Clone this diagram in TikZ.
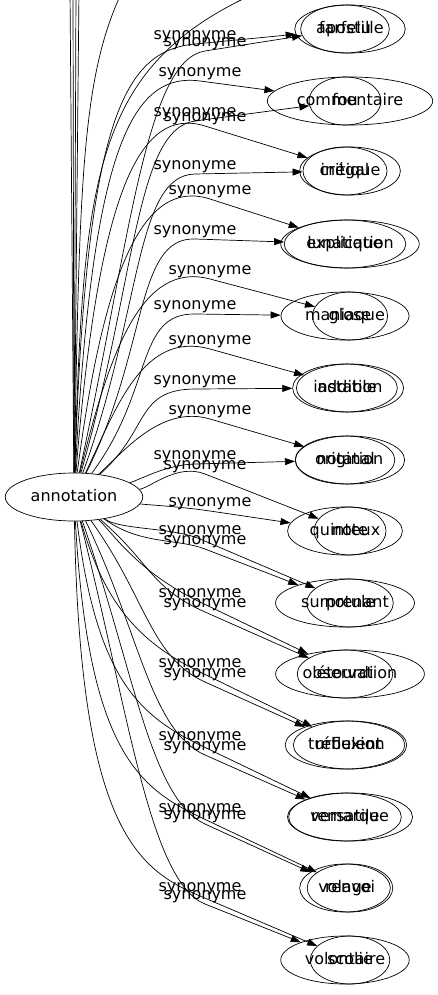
\documentclass[tikz,border=0pt]{standalone}
\usepackage{fontspec}
\setmainfont{DejaVu Sans}
\usetikzlibrary{arrows.meta,shapes.geometric,calc}

\begin{document}
\begin{tikzpicture}[x=1pt, y=-1pt, >={Triangle[length=10pt,width=7pt]}, line width=0.7pt,
    word/.style={draw, ellipse, inner xsep=5.3pt, text height=12pt, text depth=3.5pt, minimum width=72pt, minimum height=48pt, font=\fontsize{16}{19}\selectfont},
    lbl/.style={anchor=south, inner sep=1pt, font=\fontsize{16}{19}\selectfont}]
    \clip (0,0) rectangle (437,995);

    % Nodes {annotation, then the synonyms of both layers}
    \node [word] (ann)  at (74,497)  {annotation};
    \node [word] (t1a)  at (350,29)  {apostille};
    \node [word] (t1b)  at (345,29)  {farfelu};
    \node [word] (t2a)  at (350,101) {commentaire};
    \node [word] (t2b)  at (345,101) {fou};
    \node [word] (t3a)  at (350,171) {critique};
    \node [word] (t3b)  at (345,171) {inégal};
    \node [word] (t4a)  at (350,244) {explication};
    \node [word] (t4b)  at (345,244) {lunatique};
    \node [word] (t5a)  at (350,316) {glose};
    \node [word] (t5b)  at (345,316) {maniaque};
    \node [word] (t6a)  at (350,388) {addition};
    \node [word] (t6b)  at (345,388) {instable};
    \node [word] (t7a)  at (350,460) {notation};
    \node [word] (t7b)  at (345,460) {original};
    \node [word] (t8a)  at (350,531) {note};
    \node [word] (t8b)  at (345,531) {quinteux};
    \node [word] (t9a)  at (350,603) {notule};
    \node [word] (t9b)  at (345,603) {surprenant};
    \node [word] (t10a) at (350,674) {observation};
    \node [word] (t10b) at (345,674) {étourdi};
    \node [word] (t11a) at (350,745) {réflexion};
    \node [word] (t11b) at (345,745) {turbulent};
    \node [word] (t12a) at (350,817) {remarque};
    \node [word] (t12b) at (345,817) {versatile};
    \node [word] (t13a) at (350,888) {renvoi};
    \node [word] (t13b) at (345,888) {volage};
    \node [word] (t14a) at (350,960) {scolie};
    \node [word] (t14b) at (345,960) {volontaire};

    % Label points on the edges
    \coordinate (s1a)  at (195,44);   \coordinate (s1b)  at (205,51);
    \coordinate (s2a)  at (200,81);   \coordinate (s2b)  at (195,121);
    \coordinate (s3a)  at (205,126);  \coordinate (s3b)  at (195,174);
    \coordinate (s4a)  at (210,199);  \coordinate (s4b)  at (195,239);
    \coordinate (s5a)  at (210,279);  \coordinate (s5b)  at (195,314);
    \coordinate (s6a)  at (210,349);  \coordinate (s6b)  at (195,389);
    \coordinate (s7a)  at (210,419);  \coordinate (s7b)  at (195,464);
    \coordinate (s8a)  at (205,474);  \coordinate (s8b)  at (210,511);
    \coordinate (s9a)  at (200,539);  \coordinate (s9b)  at (205,549);
    \coordinate (s10a) at (200,602);  \coordinate (s10b) at (205,612);
    \coordinate (s11a) at (200,672);  \coordinate (s11b) at (205,682);
    \coordinate (s12a) at (200,745);  \coordinate (s12b) at (205,755);
    \coordinate (s13a) at (200,817);  \coordinate (s13b) at (205,824);
    \coordinate (s14a) at (200,896);  \coordinate (s14b) at (205,904);

    % Free ends above the picture
    \coordinate (off1) at (300,-25);
    \coordinate (off2) at (140,-40);
    \coordinate (off3) at (70,-10);
    \coordinate (off4) at (73,-10);
    \coordinate (off5) at (76,-10);
    \coordinate (off6) at (79,-10);

    % Paths
    \draw (ann) .. controls (84,150) and (95,50) .. (off1);
    \draw (ann) .. controls (80,150) and (82,50) .. (off2);
    \draw (ann) -- (off3);
    \draw (ann) -- (off4);
    \draw (ann) -- (off5);
    \draw (ann) -- (off6);

    \draw [->] (ann) .. controls (86,114)  and ($(s1a)!-70pt!(t1a)$)   .. (s1a)  node [lbl] {synonyme} -- (t1a);
    \draw [->] (ann) .. controls (130,240) and ($(s1b)!-60pt!(t1b)$)   .. (s1b)  node [lbl] {synonyme} -- (t1b);
    \draw [->] (ann) .. controls (92,151)  and ($(s2a)!-70pt!(t2a)$)   .. (s2a)  node [lbl] {synonyme} -- (t2a);
    \draw [->] (ann) .. controls (136,280) and ($(s2b)!-60pt!(t2b)$)   .. (s2b)  node [lbl] {synonyme} -- (t2b);
    \draw [->] (ann) .. controls (98,196)  and ($(s3a)!-70pt!(t3a)$)   .. (s3a)  node [lbl] {synonyme} -- (t3a);
    \draw [->] (ann) .. controls (142,310) and ($(s3b)!-60pt!(t3b)$)   .. (s3b)  node [lbl] {synonyme} -- (t3b);
    \draw [->] (ann) .. controls (104,269) and ($(s4a)!-70pt!(t4a)$)   .. (s4a)  node [lbl] {synonyme} -- (t4a);
    \draw [->] (ann) .. controls (148,350) and ($(s4b)!-60pt!(t4b)$)   .. (s4b)  node [lbl] {synonyme} -- (t4b);
    \draw [->] (ann) .. controls (110,349) and ($(s5a)!-70pt!(t5a)$)   .. (s5a)  node [lbl] {synonyme} -- (t5a);
    \draw [->] (ann) .. controls (154,390) and ($(s5b)!-60pt!(t5b)$)   .. (s5b)  node [lbl] {synonyme} -- (t5b);
    \draw [->] (ann) .. controls (116,409) and ($(s6a)!-70pt!(t6a)$)   .. (s6a)  node [lbl] {synonyme} -- (t6a);
    \draw [->] (ann) .. controls (150,430) and ($(s6b)!-60pt!(t6b)$)   .. (s6b)  node [lbl] {synonyme} -- (t6b);
    \draw [->] (ann) .. controls (125,450) and ($(s7a)!-50pt!(t7a)$)   .. (s7a)  node [lbl] {synonyme} -- (t7a);
    \draw [->] (ann) .. controls (140,480) and ($(s7b)!-30pt!(t7b)$)   .. (s7b)  node [lbl] {synonyme} -- (t7b);
    \draw [->] (ann) .. controls (150,488) and ($(s8a)!-30pt!(t8a)$)   .. (s8a)  node [lbl] {synonyme} -- (t8a);
    \draw [->] (ann) .. controls (150,505) and ($(s8b)!-30pt!(t8b)$)   .. (s8b)  node [lbl] {synonyme} -- (t8b);
    \draw [->] (ann) .. controls (120,530) and ($(s9a)!-30pt!(t9a)$)   .. (s9a)  node [lbl] {synonyme} -- (t9a);
    \draw [->] (ann) .. controls (140,545) and ($(s9b)!-30pt!(t9b)$)   .. (s9b)  node [lbl] {synonyme} -- (t9b);
    \draw [->] (ann) .. controls (112,532) and ($(s10a)!-70pt!(t10a)$) .. (s10a) node [lbl] {synonyme} -- (t10a);
    \draw [->] (ann) .. controls (150,562) and ($(s10b)!-60pt!(t10b)$) .. (s10b) node [lbl] {synonyme} -- (t10b);
    \draw [->] (ann) .. controls (104,602) and ($(s11a)!-70pt!(t11a)$) .. (s11a) node [lbl] {synonyme} -- (t11a);
    \draw [->] (ann) .. controls (146,597) and ($(s11b)!-60pt!(t11b)$) .. (s11b) node [lbl] {synonyme} -- (t11b);
    \draw [->] (ann) .. controls (96,675)  and ($(s12a)!-70pt!(t12a)$) .. (s12a) node [lbl] {synonyme} -- (t12a);
    \draw [->] (ann) .. controls (140,633) and ($(s12b)!-60pt!(t12b)$) .. (s12b) node [lbl] {synonyme} -- (t12b);
    \draw [->] (ann) .. controls (88,747)  and ($(s13a)!-70pt!(t13a)$) .. (s13a) node [lbl] {synonyme} -- (t13a);
    \draw [->] (ann) .. controls (134,670) and ($(s13b)!-60pt!(t13b)$) .. (s13b) node [lbl] {synonyme} -- (t13b);
    \draw [->] (ann) .. controls (80,826)  and ($(s14a)!-70pt!(t14a)$) .. (s14a) node [lbl] {synonyme} -- (t14a);
    \draw [->] (ann) .. controls (128,708) and ($(s14b)!-60pt!(t14b)$) .. (s14b) node [lbl] {synonyme} -- (t14b);

\end{tikzpicture}
\end{document}
